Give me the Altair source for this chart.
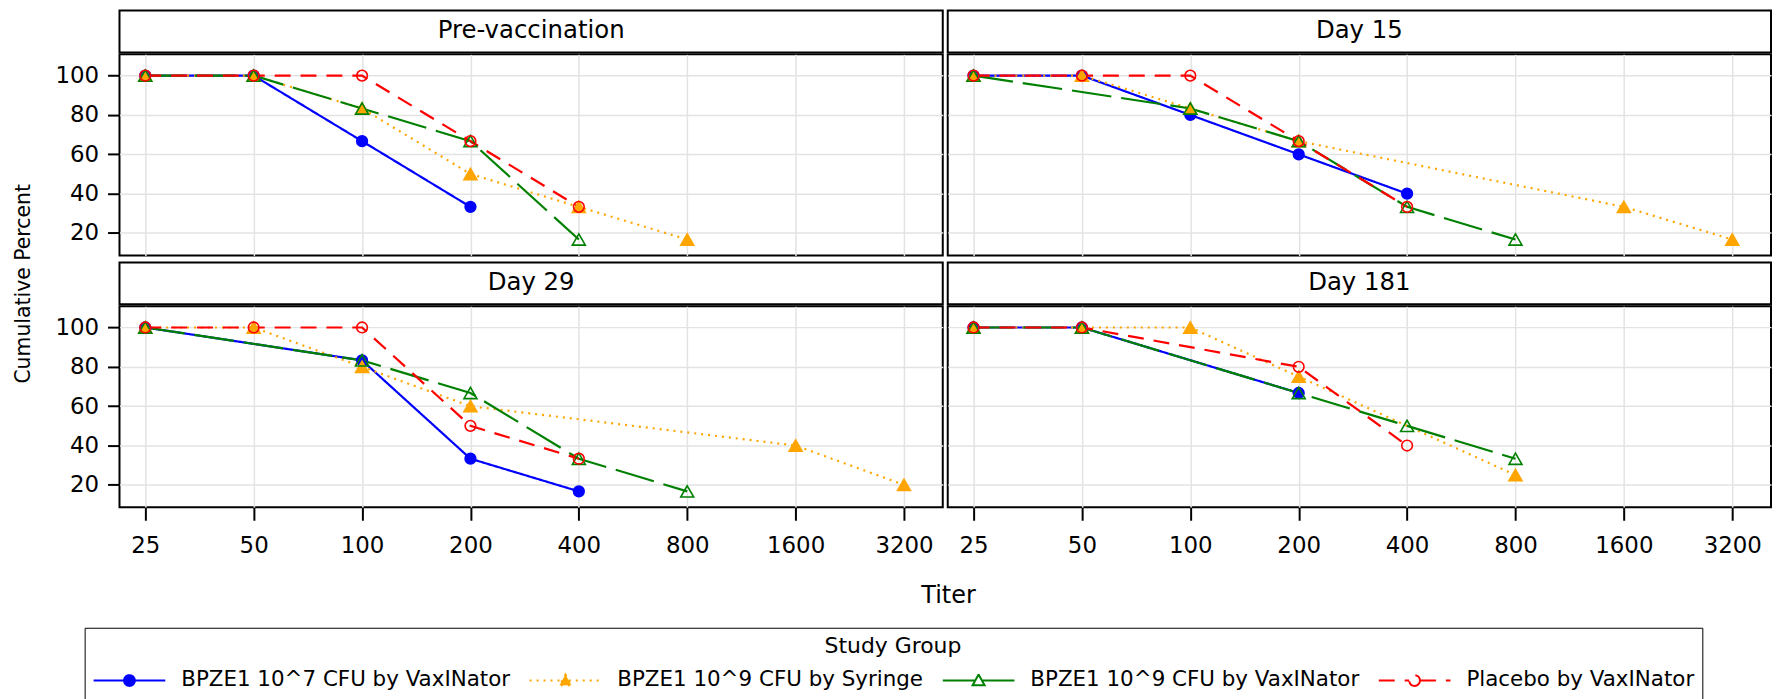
import altair as alt
import pandas as pd

FONT = "DejaVu Sans"

days = ["Pre-vaccination", "Day 15", "Day 29", "Day 181"]
groups = ["BPZE1 10^7 CFU by VaxINator", "BPZE1 10^9 CFU by Syringe",
          "BPZE1 10^9 CFU by VaxINator", "Placebo by VaxINator"]
group_colors = ["#0000ff", "#ffa500", "#008000", "#ff0000"]
group_fills = ["#0000ff", "#ffa500", "transparent", "transparent"]
group_dashes = [[1, 0], [2, 5], [40, 10], [16, 10]]
tick_titers = [25, 50, 100, 200, 400, 800, 1600, 3200]
tick_pcts = [20, 40, 60, 80, 100]

# values per panel, one list per study group (same order as `groups`)
pre_titer = [[25, 50, 100, 200], [25, 50, 100, 200, 400, 800],
             [25, 50, 100, 200, 400], [25, 50, 100, 200, 400]]
pre_pct = [[100, 100, 66.7, 33.3], [100, 100, 83.3, 50, 33.3, 16.7],
           [100, 100, 83.3, 66.7, 16.7], [100, 100, 100, 66.7, 33.3]]
d15_titer = [[25, 50, 100, 200, 400], [25, 50, 100, 200, 1600, 3200],
             [25, 100, 200, 400, 800], [25, 50, 100, 200, 400]]
d15_pct = [[100, 100, 80, 60, 40], [100, 100, 83.3, 66.7, 33.3, 16.7],
           [100, 83.3, 66.7, 33.3, 16.7], [100, 100, 100, 66.7, 33.3]]
d29_titer = [[25, 100, 200, 400], [25, 50, 100, 200, 1600, 3200],
             [25, 100, 200, 400, 800], [25, 50, 100, 200, 400]]
d29_pct = [[100, 83.3, 33.3, 16.7], [100, 100, 80, 60, 40, 20],
           [100, 83.3, 66.7, 33.3, 16.7], [100, 100, 100, 50, 33.3]]
d181_titer = [[25, 50, 200], [25, 50, 100, 200, 800],
              [25, 50, 200, 400, 800], [25, 50, 200, 400]]
d181_pct = [[100, 100, 66.7], [100, 100, 100, 75, 25],
            [100, 100, 66.7, 50, 33.3], [100, 100, 80, 40]]

panel_titers = [pre_titer, d15_titer, d29_titer, d181_titer]
panel_pcts = [pre_pct, d15_pct, d29_pct, d181_pct]


def make_df(day, titers, pcts):
    rows = []
    for g, ts, ps in zip(groups, titers, pcts):
        for t, p in zip(ts, ps):
            rows.append({"day": day, "group": g, "titer": t, "pct": p})
    return pd.DataFrame(rows)


# legend symbols: line with the marker in its middle
circle_sym = ("M-1,0H1.55M2.45,0A0.45,0.45 0 1,1 1.55,0"
              "A0.45,0.45 0 1,1 2.45,0M2.45,0H5")
tri_sym = "M-1,0H1.72M2,-0.5L2.5,0.4L1.5,0.4ZM2.28,0H5"

stroke_scale = alt.Scale(domain=groups, range=group_colors)
fill_scale = alt.Scale(domain=groups, range=group_fills)
dash_scale = alt.Scale(domain=groups, range=group_dashes)
shape_scale = alt.Scale(domain=groups, range=[circle_sym, tri_sym, tri_sym, circle_sym])
x_scale = alt.Scale(type="log", base=2, domain=[21.2, 4100], nice=False)
y_scale = alt.Scale(domain=[8.6, 110.8], nice=False, zero=False)

GRID = "#e3e3e3"
PW = 827
HH = 42
PH = 202

legend = alt.Legend(
    title="Study Group", orient="none", legendX=-35, legendY=20,
    direction="horizontal", columns=4, gridAlign="none",
    symbolSize=576, symbolStrokeWidth=2,
    labelOffset=63, columnPadding=15, titleAnchor="middle", titleFontSize=22,
    titleFontWeight="normal", titleFont=FONT, titleColor="black",
    labelFont=FONT, labelFontSize=21.5, labelColor="black", labelLimit=600,
    strokeColor="black", padding=8, titlePadding=10, symbolOpacity=1)


def panel(i):
    day = days[i]
    df = make_df(day, panel_titers[i], panel_pcts[i])
    bottom = i >= 2
    left = i % 2 == 0
    if bottom:
        x_axis = alt.Axis(values=tick_titers, format="d", tickSize=13, tickWidth=2,
                          tickColor="black", labelFontSize=23, labelColor="black",
                          labelPadding=14, domain=False, grid=True, gridColor=GRID,
                          gridWidth=1.5, labelFlush=False, labelOverlap=False, title=None)
    else:
        x_axis = alt.Axis(values=tick_titers, labels=False, ticks=False, domain=False,
                          grid=True, gridColor=GRID, gridWidth=1.5, title=None)
    if left:
        y_axis = alt.Axis(values=tick_pcts, tickSize=12, tickWidth=2, tickColor="black",
                          labelFontSize=23, labelColor="black", labelPadding=9,
                          domain=False, grid=True, gridColor=GRID, gridWidth=1.5,
                          title=None)
    else:
        y_axis = alt.Axis(values=tick_pcts, labels=False, ticks=False, domain=False,
                          grid=True, gridColor=GRID, gridWidth=1.5, title=None)

    x = alt.X("titer:Q", scale=x_scale, axis=x_axis)
    y = alt.Y("pct:Q", scale=y_scale, axis=y_axis)
    base = alt.Chart(df)

    line = base.mark_line(strokeWidth=2.2).encode(
        x=x, y=y,
        stroke=alt.Stroke("group:N", scale=stroke_scale, legend=None),
        strokeDash=alt.StrokeDash("group:N", scale=dash_scale, legend=None),
    )

    def pts(names, shape, size):
        return base.transform_filter(
            alt.FieldOneOfPredicate(field="group", oneOf=names)
        ).mark_point(shape=shape, size=size, strokeWidth=1.6, opacity=1).encode(
            x=x, y=y,
            stroke=alt.Stroke("group:N", scale=stroke_scale, legend=None),
            fill=alt.Fill("group:N", scale=fill_scale, legend=None),
        )

    plot = alt.layer(
        line,
        pts([groups[0]], "circle", 115),
        pts([groups[1], groups[2]], "triangle-up", 170),
        pts([groups[3]], "circle", 115),
    ).properties(width=PW, height=PH)

    header = alt.Chart(pd.DataFrame({"label": [day]})).mark_text(
        fontSize=24.5, font=FONT, color="black"
    ).encode(
        text="label:N",
        y=alt.Y("label:N", axis=None),
    ).properties(width=PW, height=HH)

    return alt.vconcat(header, plot, spacing=0)


row1 = alt.hconcat(panel(0), panel(1), spacing=3)
row2 = alt.hconcat(panel(2), panel(3), spacing=3)
grid = alt.vconcat(
    row1, row2, spacing=5,
    title=alt.TitleParams("Cumulative Percent", orient="left", anchor="middle",
                          fontSize=20.5, font=FONT, fontWeight="normal",
                          color="black", offset=20),
)
mid = alt.vconcat(
    grid,
    title=alt.TitleParams("Titer", orient="bottom", anchor="middle", fontSize=24,
                          font=FONT, fontWeight="normal", color="black",
                          offset=26, dx=56),
)

# legend-only view: draws no marks, carries the shared study-group legend
legend_df = pd.DataFrame({"group": groups})
legend_view = alt.Chart(legend_df).transform_filter("false").mark_point(
    opacity=1, strokeWidth=2
).encode(
    stroke=alt.Stroke("group:N", scale=stroke_scale, legend=legend),
    fill=alt.Fill("group:N", scale=fill_scale, legend=legend),
    strokeDash=alt.StrokeDash("group:N", scale=dash_scale, legend=legend),
    shape=alt.Shape("group:N", scale=shape_scale, legend=legend),
).properties(width=1, height=1, view=alt.ViewBackground(strokeOpacity=0))

chart = alt.vconcat(mid, legend_view, spacing=0).resolve_scale(
    stroke="independent", fill="independent", strokeDash="independent",
    shape="independent",
).properties(padding={"left": 5, "top": 0, "right": 0, "bottom": 0})

chart = chart.configure(font=FONT).configure_view(stroke="black", strokeWidth=2)

chart.save("out.html", embed_options={"renderer": "svg", "actions": False})
